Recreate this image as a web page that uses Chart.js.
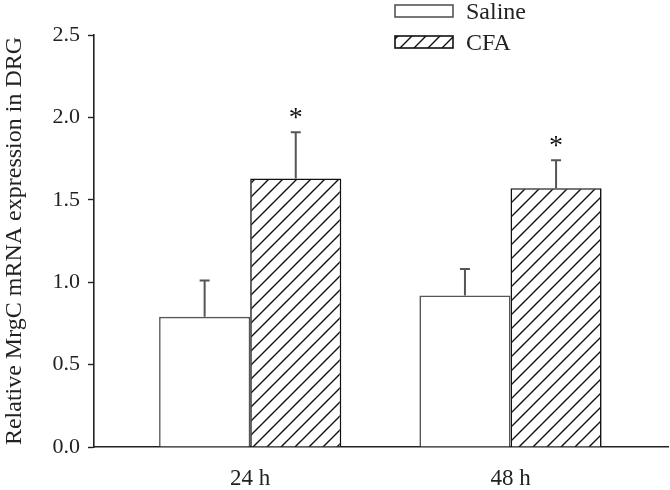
<!DOCTYPE html>
<html>
<head>
<meta charset="utf-8">
<script src="https://cdn.jsdelivr.net/npm/chart.js@4/dist/chart.umd.min.js"></script>
<style>
  html, body { margin: 0; padding: 0; background: #fff; }
  #wrap { width: 670px; height: 490px; }
</style>
</head>
<body>
<div id="wrap"><canvas id="chart"></canvas></div>
<script>
const categories = ['24 h', '48 h'];
const salineMean = [0.79, 0.92];
const salineSem = [0.22, 0.16];
const cfaMean = [1.63, 1.57];
const cfaSem = [0.28, 0.17];
const cfaMarks = ['*', '*'];
const yTicks = [0, 0.5, 1.0, 1.5, 2.0, 2.5];

const FONT = '"Liberation Serif", "Times New Roman", serif';

// diagonal hatch
function hatch() {
  const s = 14;
  const c = document.createElement('canvas');
  c.width = s; c.height = s;
  const g = c.getContext('2d');
  g.fillStyle = '#fff';
  g.fillRect(0, 0, s, s);
  g.strokeStyle = '#111';
  g.lineWidth = 1.4;
  g.beginPath();
  g.moveTo(-2, s + 2); g.lineTo(s + 2, -2);
  g.moveTo(-2, 2); g.lineTo(2, -2);
  g.moveTo(s - 2, s + 2); g.lineTo(s + 2, s - 2);
  g.stroke();
  return g.createPattern(c, 'repeat');
}
const hatchFill = hatch();

const errBars = {
  id: 'errBars',
  afterDatasetsDraw(chart) {
    const ctx = chart.ctx;
    const y = chart.scales.y;
    chart.data.datasets.forEach((ds, i) => {
      const meta = chart.getDatasetMeta(i);
      meta.data.forEach((bar, j) => {
        const top = y.getPixelForValue(ds.data[j].y + ds.sem[j]);
        ctx.save();
        ctx.strokeStyle = '#555';
        ctx.lineWidth = 2;
        ctx.beginPath();
        ctx.moveTo(bar.x, bar.y);
        ctx.lineTo(bar.x, top);
        ctx.moveTo(bar.x - 5, top);
        ctx.lineTo(bar.x + 5, top);
        ctx.stroke();
        if (ds.marks && ds.marks[j]) {
          ctx.fillStyle = '#111';
          ctx.font = '28px ' + FONT;
          ctx.textAlign = 'center';
          ctx.textBaseline = 'middle';
          ctx.fillText(ds.marks[j], bar.x, top - 14);
        }
        ctx.restore();
      });
    });
  }
};

const boxLegend = {
  id: 'boxLegend',
  afterDraw(chart) {
    const ctx = chart.ctx;
    chart.data.datasets.forEach((ds, i) => {
      const yTop = i === 0 ? 5 : 36;
      ctx.save();
      ctx.fillStyle = ds.backgroundColor;
      ctx.fillRect(395, yTop, 58, 12);
      ctx.strokeStyle = ds.borderColor;
      ctx.lineWidth = 1.6;
      ctx.strokeRect(395, yTop, 58, 12);
      ctx.fillStyle = '#222';
      ctx.font = '24px ' + FONT;
      ctx.textBaseline = 'middle';
      ctx.fillText(ds.label, 466, yTop + 8);
      ctx.restore();
    });
  }
};

new Chart(document.getElementById('chart'), {
  type: 'bar',
  data: {
    datasets: [
      {
        label: 'Saline',
        data: salineMean.map((v, i) => ({ x: i, y: v })),
        sem: salineSem,
        backgroundColor: '#fff',
        borderColor: '#555',
        borderWidth: 1.6
      },
      {
        label: 'CFA',
        data: cfaMean.map((v, i) => ({ x: i, y: v })),
        sem: cfaSem,
        marks: cfaMarks,
        backgroundColor: hatchFill,
        borderColor: '#111',
        borderWidth: 1.6
      }
    ]
  },
  options: {
    responsive: true,
    maintainAspectRatio: false,
    animation: false,
    categoryPercentage: 0.7,
    barPercentage: 1.0,
    layout: { padding: { top: 35, right: 2, left: 0, bottom: 0 } },
    plugins: {
      legend: { display: false },
      tooltip: { enabled: false }
    },
    scales: {
      x: {
        type: 'linear',
        offset: false,
        min: -0.6,
        max: 1.605,
        afterBuildTicks: s => { s.ticks = categories.map((c, i) => ({ value: i })); },
        afterFit: s => { s.height = 43; },
        grid: { display: false, drawTicks: false },
        border: { display: true, color: '#222', width: 1.6 },
        ticks: {
          callback: v => categories[v],
          padding: 18,
          color: '#222',
          font: { family: FONT, size: 23 },
          maxRotation: 0
        }
      },
      y: {
        min: 0,
        max: 2.5,
        afterBuildTicks: s => { s.ticks = yTicks.map(v => ({ value: v })); },
        afterFit: s => { s.width = 94; },
        grid: { drawOnChartArea: false, drawTicks: true, tickLength: 6, tickColor: '#222', tickWidth: 1.4 },
        border: { display: true, color: '#222', width: 1.6 },
        ticks: {
          callback: v => v.toFixed(1),
          padding: 8,
          color: '#222',
          font: { family: FONT, size: 22 }
        },
        title: {
          display: true,
          text: 'Relative MrgC mRNA expression in DRG',
          color: '#222',
          font: { family: FONT, size: 24 },
          padding: { top: 0, bottom: 2 }
        }
      }
    }
  },
  plugins: [errBars, boxLegend]
});
</script>
</body>
</html>
